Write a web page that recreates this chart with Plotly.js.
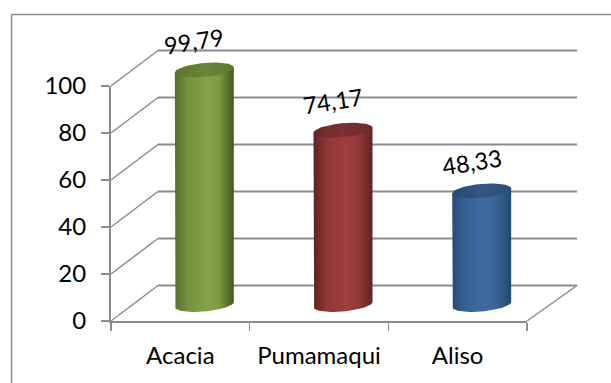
<!DOCTYPE html>
<html>
<head>
<meta charset="utf-8">
<script src="https://cdn.plot.ly/plotly-3.0.1.min.js"></script>
<style>html,body{margin:0;padding:0;background:#fff}#chart{width:611px;height:383px}</style>
</head>
<body>
<div id="chart"></div>
<script>
// Chart data
const categories = ['Acacia', 'Pumamaqui', 'Aliso'];
const values = [99.79, 74.17, 48.33];
const valueTicks = [0, 20, 40, 60, 80, 100];
const bodyShades = [
  ['#56702b', '#74933c', '#82a347', '#7a9a41', '#44591f'],
  ['#5a2322', '#8f3737', '#a03e3e', '#953939', '#5e2423'],
  ['#254b78', '#376195', '#3f6ba0', '#3a6496', '#23466f']
];
const capShades = [
  ['#5a742d', '#6a8638', '#607a30'],
  ['#6b2928', '#7a3130', '#6e2b2a'],
  ['#294a72', '#315682', '#2b4d76']
];

// Page geometry in pixels
const W = 611, H = 383;
const AX_L = 111, AX_R = 527, AX_B = 321, AX_T = 86;
const SLOT = (AX_R - AX_L) / categories.length;
const UNIT = (AX_B - AX_T) / 100;
const GREY = '#8c8c8c';

// Oblique depth of the 3D box, expressed in axis units
const DEPTH_LEFT = 47 / SLOT;
const DEPTH_RIGHT = 50 / SLOT;
const DEPTH_Y = 35.5 / UNIT;
// Cylinders stand half way back on the floor
const CYL_DX = 24 / SLOT;
const CYL_BASE = 16.5 / UNIT;
const CYL_A = 29.5 / SLOT;
const CYL_SHEAR = 2.5 / UNIT;
const CYL_B = 7 / UNIT;

function ellipsePoint(cx, cy, t) {
  return [cx + CYL_A * Math.cos(t),
          cy + CYL_SHEAR * Math.cos(t) + CYL_B * Math.sin(t)];
}
function arc(cx, cy, from, to, n) {
  const pts = [];
  for (let k = 0; k <= n; k++) pts.push(ellipsePoint(cx, cy, from + (to - from) * k / n));
  return pts;
}
function polyTrace(pts, shades) {
  const stops = shades.length === 5 ? [0, 0.22, 0.55, 0.75, 1] : [0, 0.5, 1];
  return {
    type: 'scatter', mode: 'lines', xaxis: 'x2', yaxis: 'y2',
    x: pts.map(p => p[0]), y: pts.map(p => p[1]),
    fill: 'toself', line: {width: 0}, hoverinfo: 'skip', showlegend: false,
    fillgradient: {type: 'horizontal', colorscale: shades.map((c, i) => [stops[i], c])}
  };
}

// Side wall and back wall lines
const wallX = [], wallY = [], gridX = [], gridY = [];
const xMin = -0.5, xMax = categories.length - 0.5;
valueTicks.forEach(v => {
  wallX.push(xMin, xMin + DEPTH_LEFT, null);
  wallY.push(v, v + DEPTH_Y, null);
  gridX.push(xMin + DEPTH_LEFT, xMax + DEPTH_RIGHT, null);
  gridY.push(v + DEPTH_Y, v + DEPTH_Y, null);
});
wallX.push(xMax, xMax + DEPTH_RIGHT);
wallY.push(0, DEPTH_Y);

const traces = [
  // Keeps the visible axes on the page; its markers are not painted
  {type: 'scatter', mode: 'markers', x: categories.map((c, i) => i), y: values,
   marker: {opacity: 0}, hoverinfo: 'skip', showlegend: false},
  {type: 'scatter', mode: 'lines', xaxis: 'x2', yaxis: 'y2', x: wallX, y: wallY,
   line: {color: GREY, width: 1.5}, hoverinfo: 'skip', showlegend: false},
  {type: 'scatter', mode: 'lines', xaxis: 'x2', yaxis: 'y2', x: gridX, y: gridY,
   line: {color: GREY, width: 2}, hoverinfo: 'skip', showlegend: false}
];
const labels = [];
values.forEach((v, i) => {
  const cx = i + CYL_DX;
  const top = CYL_BASE + v;
  // Body runs over the top rim, down one side, round the front of the base and back up
  traces.push(polyTrace(
    arc(cx, top, 0, Math.PI, 2).concat(arc(cx, CYL_BASE, Math.PI, 2 * Math.PI, 30)),
    bodyShades[i]));
  traces.push(polyTrace(arc(cx, top, 0, 2 * Math.PI, 60), capShades[i]));
  labels.push({
    xref: 'x2', yref: 'y2', x: cx, y: top, xshift: -10, yshift: 29,
    text: v.toFixed(2).replace('.', ','), showarrow: false, textangle: -9,
    font: {family: 'Lato, sans-serif', size: 23.5, color: '#000'}
  });
});

// The second pair of axes spans the whole page at the same scale as the visible pair,
// so walls and cylinders can rise above the value axis without being clipped.
const layout = {
  width: W, height: H,
  margin: {l: 0, r: 0, t: 0, b: 0},
  paper_bgcolor: '#fff', plot_bgcolor: 'rgba(0,0,0,0)',
  showlegend: false,
  font: {family: 'Lato, sans-serif', size: 24, color: '#000'},
  xaxis: {
    domain: [AX_L / W, AX_R / W], anchor: 'y', range: [xMin, xMax], fixedrange: true,
    tickmode: 'array', tickvals: categories.map((c, i) => i), ticktext: categories,
    ticks: '', showgrid: false, zeroline: false, showline: true, linecolor: GREY, linewidth: 2,
    ticklabelstandoff: 12,
    minor: {tickmode: 'array', tickvals: [-0.5, 0.5, 1.5, 2.5], ticks: 'outside',
            ticklen: 8, tickwidth: 1.5, tickcolor: GREY, showgrid: false}
  },
  yaxis: {
    domain: [(H - AX_B) / H, (H - AX_T) / H], anchor: 'x', range: [0, 100], fixedrange: true,
    tickmode: 'array', tickvals: valueTicks,
    ticks: 'outside', ticklen: 8, tickwidth: 1.5, tickcolor: GREY,
    showgrid: false, zeroline: false, showline: true, linecolor: GREY, linewidth: 2,
    ticklabelstandoff: 10
  },
  xaxis2: {
    domain: [0, 1], anchor: 'y2', visible: false, fixedrange: true,
    range: [xMin - AX_L / SLOT, xMin + (W - AX_L) / SLOT]
  },
  yaxis2: {
    domain: [0, 1], anchor: 'x2', visible: false, fixedrange: true,
    range: [-(H - AX_B) / UNIT, AX_B / UNIT]
  },
  annotations: labels,
  shapes: [
    {type: 'line', xref: 'paper', yref: 'paper', x0: 11.5 / W, x1: 1, y0: 1 - 14.5 / H, y1: 1 - 14.5 / H,
     line: {color: GREY, width: 1.5}},
    {type: 'line', xref: 'paper', yref: 'paper', x0: 11.5 / W, x1: 11.5 / W, y0: 0, y1: 1 - 14.5 / H,
     line: {color: GREY, width: 1.5}}
  ]
};

Plotly.newPlot('chart', traces, layout, {displayModeBar: false, staticPlot: true});
</script>
</body>
</html>
